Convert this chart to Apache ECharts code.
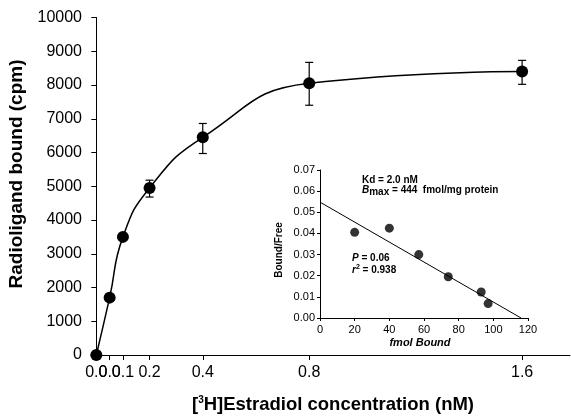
<!DOCTYPE html>
<html>
<head>
<meta charset="utf-8">
<script src="https://cdn.jsdelivr.net/npm/echarts@6/dist/echarts.min.js"></script>
<style>
  html, body { margin: 0; padding: 0; background: #fff; }
  #chart { width: 571px; height: 416px; }
</style>
</head>
<body>
<div id="chart"></div>
<script>
// saturation curve
var conc = [0, 0.05, 0.1, 0.2, 0.4, 0.8, 1.6];
var bound = [0, 1700, 3500, 4950, 6450, 8050, 8400];
var errLow = [0, 1700, 3500, 4680, 5970, 7400, 8020];
var errHigh = [0, 1700, 3500, 5180, 6860, 8670, 8730];
var xTicks = [0, 0.05, 0.1, 0.2, 0.4, 0.8, 1.6];
var xTickLabels = ['0.0', '0.0', '0.1', '0.2', '0.4', '0.8', '1.6'];

// scatchard inset
var fmolBound = [20, 40, 57, 74, 93, 97];
var boundFree = [0.0405, 0.0425, 0.030, 0.0195, 0.0123, 0.0068];
var fitX = [0, 116];
var fitY = [0.0548, 0];

var myChart = echarts.init(document.getElementById('chart'));

var mainPts = conc.map(function (c, i) { return [c, bound[i]]; });
var errPts = conc.map(function (c, i) { return [c, errLow[i], errHigh[i]]; });
var insetPts = fmolBound.map(function (f, i) { return [f, boundFree[i]]; });
var fitPts = fitX.map(function (f, i) { return [f, fitY[i]]; });

var font = 'Liberation Sans, Arial, sans-serif';

function xLabel(v) {
  var i = xTicks.indexOf(v);
  return i >= 0 ? xTickLabels[i] : '';
}
// 0.05 label overlaps its neighbours, so it goes on its own axis
var crowded = [xTicks[1]];
var spread = xTicks.filter(function (v) { return crowded.indexOf(v) < 0; });

var option = {
  animation: false,
  backgroundColor: '#fff',
  grid: [
    { left: 91, top: 17.5, width: 479, height: 337.5 },
    { left: 320, top: 170, width: 208, height: 148 }
  ],
  xAxis: [{
    type: 'value', gridIndex: 0, min: -0.02, max: 1.78,
    axisLine: { lineStyle: { color: '#000', width: 1 } },
    axisTick: { customValues: xTicks, length: 5, lineStyle: { color: '#000' } },
    axisLabel: {
      customValues: spread, color: '#000', fontSize: 16, fontFamily: font, margin: 10,
      hideOverlap: false, formatter: xLabel
    },
    splitLine: { show: false }
  }, {
    type: 'value', gridIndex: 1, min: 0, max: 120, interval: 20,
    axisLine: { lineStyle: { color: '#000', width: 1 } },
    axisTick: { length: 3, lineStyle: { color: '#000' } },
    axisLabel: { color: '#000', fontSize: 11, fontFamily: font, margin: 6 },
    splitLine: { show: false }
  }, {
    type: 'value', gridIndex: 0, min: -0.02, max: 1.78, position: 'bottom',
    axisLine: { show: false },
    axisTick: { show: false },
    axisLabel: {
      customValues: crowded, color: '#000', fontSize: 16, fontFamily: font, margin: 10,
      hideOverlap: false, formatter: xLabel
    },
    splitLine: { show: false }
  }],
  yAxis: [{
    type: 'value', gridIndex: 0, min: 0, max: 10000, interval: 1000,
    axisLine: { show: true, lineStyle: { color: '#000', width: 1 } },
    axisTick: { show: true, length: 5, lineStyle: { color: '#000' } },
    axisLabel: {
      color: '#000', fontSize: 16, fontFamily: font, margin: 9,
      formatter: function (v) { return String(v); }
    },
    splitLine: { show: false }
  }, {
    type: 'value', gridIndex: 1, min: 0, max: 0.07, interval: 0.01,
    axisLine: { show: true, lineStyle: { color: '#000', width: 1 } },
    axisTick: { show: true, length: 3, lineStyle: { color: '#000' } },
    axisLabel: {
      color: '#000', fontSize: 11, fontFamily: font, margin: 5,
      formatter: function (v) { return v.toFixed(2); }
    },
    splitLine: { show: false }
  }],
  series: [{
    type: 'line', xAxisIndex: 0, yAxisIndex: 0,
    data: mainPts,
    smooth: 0.5,
    symbol: 'circle', symbolSize: 12,
    itemStyle: { color: '#000' },
    lineStyle: { color: '#000', width: 1.5 },
    z: 3
  }, {
    type: 'custom', xAxisIndex: 0, yAxisIndex: 0,
    data: errPts,
    renderItem: function (params, api) {
      var x = api.value(0);
      var lo = api.coord([x, api.value(1)]);
      var hi = api.coord([x, api.value(2)]);
      var w = 4;
      var st = { stroke: '#000', lineWidth: 1.2 };
      return {
        type: 'group',
        children: [
          { type: 'line', shape: { x1: lo[0], y1: lo[1], x2: hi[0], y2: hi[1] }, style: st },
          { type: 'line', shape: { x1: lo[0] - w, y1: lo[1], x2: lo[0] + w, y2: lo[1] }, style: st },
          { type: 'line', shape: { x1: hi[0] - w, y1: hi[1], x2: hi[0] + w, y2: hi[1] }, style: st }
        ]
      };
    },
    z: 2
  }, {
    type: 'line', xAxisIndex: 1, yAxisIndex: 1,
    data: fitPts,
    symbol: 'none',
    lineStyle: { color: '#000', width: 1 }
  }, {
    type: 'scatter', xAxisIndex: 1, yAxisIndex: 1,
    data: insetPts,
    symbolSize: 9,
    itemStyle: { color: '#000' }
  }],
  graphic: [{
    type: 'text', x: 17, y: 174, rotation: Math.PI / 2,
    style: {
      text: 'Radioligand bound (cpm)', font: 'bold 19px ' + font, fill: '#000',
      textAlign: 'center', textVerticalAlign: 'middle'
    }
  }, {
    type: 'text', x: 333, y: 405,
    style: {
      text: '[{sup|3}H]Estradiol concentration (nM)', font: 'bold 18.5px ' + font, fill: '#000',
      textAlign: 'center', textVerticalAlign: 'middle',
      rich: { sup: { fontSize: 10, fontWeight: 'bold', fontFamily: font, padding: [0, 0, 9, 0] } }
    }
  }, {
    type: 'text', x: 279, y: 250, rotation: Math.PI / 2,
    style: {
      text: 'Bound/Free', font: 'bold 10px ' + font, fill: '#000',
      textAlign: 'center', textVerticalAlign: 'middle'
    }
  }, {
    type: 'text', x: 420, y: 343,
    style: {
      text: 'fmol Bound', font: 'italic bold 11px ' + font, fill: '#000',
      textAlign: 'center', textVerticalAlign: 'middle'
    }
  }, {
    type: 'text', x: 362, y: 180,
    style: {
      text: 'Kd = 2.0 nM', font: 'bold 10px ' + font, fill: '#000',
      textAlign: 'left', textVerticalAlign: 'middle'
    }
  }, {
    type: 'text', x: 362, y: 190,
    style: {
      text: '{i|B}{sub|max} = 444  fmol/mg protein', font: 'bold 10px ' + font, fill: '#000',
      textAlign: 'left', textVerticalAlign: 'middle',
      rich: {
        i: { fontStyle: 'italic', fontWeight: 'bold', fontSize: 10, fontFamily: font },
        sub: { fontWeight: 'bold', fontSize: 10, fontFamily: font, padding: [5, 0, 0, 0] }
      }
    }
  }, {
    type: 'text', x: 352, y: 258,
    style: {
      text: '{i|P} = 0.06', font: 'bold 10px ' + font, fill: '#000',
      textAlign: 'left', textVerticalAlign: 'middle',
      rich: { i: { fontStyle: 'italic', fontWeight: 'bold', fontSize: 10, fontFamily: font } }
    }
  }, {
    type: 'text', x: 352, y: 270,
    style: {
      text: '{i|r}{sup|2} = 0.938', font: 'bold 10px ' + font, fill: '#000',
      textAlign: 'left', textVerticalAlign: 'middle',
      rich: {
        i: { fontStyle: 'italic', fontWeight: 'bold', fontSize: 10, fontFamily: font },
        sup: { fontWeight: 'bold', fontSize: 7, fontFamily: font, padding: [0, 0, 6, 0] }
      }
    }
  }]
};

myChart.setOption(option);
</script>
</body>
</html>
